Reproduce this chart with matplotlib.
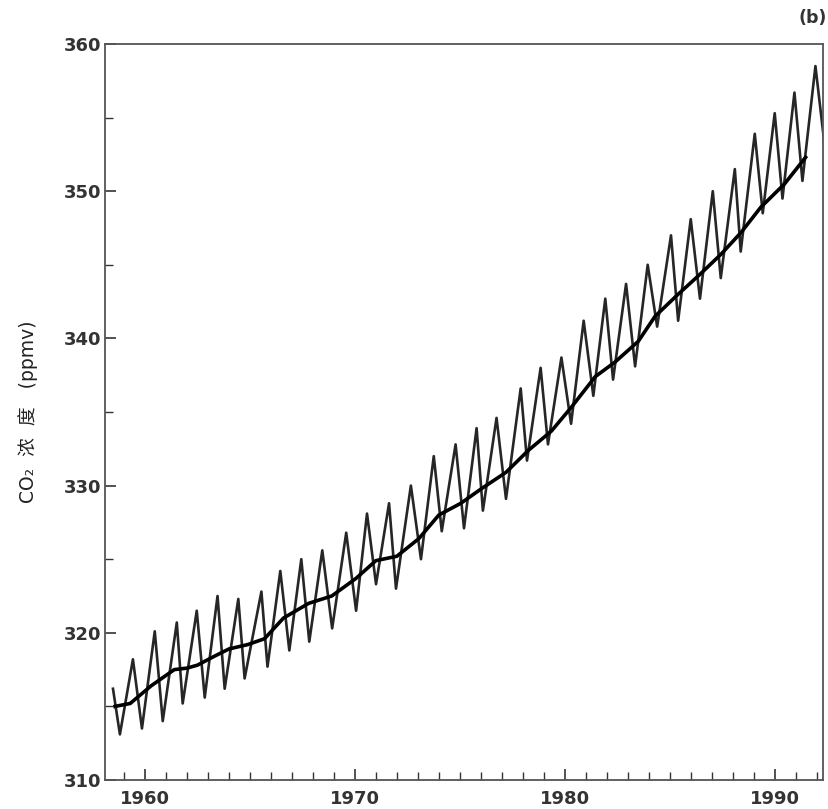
import matplotlib
matplotlib.use('Agg')
import matplotlib.pyplot as plt
from matplotlib.ticker import MultipleLocator

plt.rcParams['font.family'] = ['DejaVu Sans', 'Noto Sans CJK SC']

# seasonal curve: alternating peak / trough points
season_year = [1958.48, 1958.81, 1959.43, 1959.86, 1960.47, 1960.85, 1961.52, 1961.80,
               1962.47, 1962.85, 1963.46, 1963.80, 1964.45, 1964.75, 1965.55, 1965.84,
               1966.45, 1966.88, 1967.45, 1967.83, 1968.45, 1968.92, 1969.59, 1970.06,
               1970.58, 1971.01, 1971.63, 1971.96, 1972.67, 1973.15, 1973.76, 1974.14,
               1974.80, 1975.20, 1975.80, 1976.10, 1976.75, 1977.20, 1977.90, 1978.20,
               1978.85, 1979.20, 1979.84, 1980.30, 1980.90, 1981.36, 1981.93, 1982.30,
               1982.92, 1983.35, 1983.95, 1984.40, 1985.06, 1985.40, 1986.00, 1986.44,
               1987.05, 1987.43, 1988.10, 1988.38, 1989.05, 1989.43, 1990.00, 1990.37,
               1990.94, 1991.32, 1991.94, 1992.37]
season_ppm = [316.2, 313.1, 318.2, 313.5, 320.1, 314.0, 320.7, 315.2,
              321.5, 315.6, 322.5, 316.2, 322.3, 316.9, 322.8, 317.7,
              324.2, 318.8, 325.0, 319.4, 325.6, 320.3, 326.8, 321.5,
              328.1, 323.3, 328.8, 323.0, 330.0, 325.0, 332.0, 326.9,
              332.8, 327.1, 333.9, 328.3, 334.6, 329.1, 336.6, 331.7,
              338.0, 332.8, 338.7, 334.2, 341.2, 336.1, 342.7, 337.2,
              343.7, 338.1, 345.0, 340.8, 347.0, 341.2, 348.1, 342.7,
              350.0, 344.1, 351.5, 345.9, 353.9, 348.5, 355.3, 349.5,
              356.7, 350.7, 358.5, 353.2]

# smoothed trend line
trend_year = [1958.58, 1959.3, 1960.3, 1961.0, 1961.4, 1962.0, 1962.5, 1963.3, 1964.0,
              1964.9, 1965.7, 1966.6, 1967.8, 1968.9, 1970.06, 1971.0, 1972.0, 1973.05,
              1974.0, 1975.05, 1976.04, 1977.2, 1978.27, 1979.36, 1980.3, 1981.45,
              1982.4, 1983.5, 1984.3, 1985.4, 1986.4, 1987.43, 1988.4, 1989.33,
              1990.47, 1991.47]
trend_ppm = [315.0, 315.2, 316.4, 317.1, 317.5, 317.6, 317.8, 318.4, 318.9,
             319.2, 319.6, 321.0, 322.0, 322.5, 323.7, 324.9, 325.2, 326.4,
             328.0, 328.8, 329.8, 330.9, 332.4, 333.7, 335.3, 337.4,
             338.4, 339.8, 341.5, 343.0, 344.3, 345.7, 347.2, 348.9,
             350.5, 352.3]

fig = plt.figure(figsize=(8.29, 8.09), dpi=100)
ax = fig.add_axes([105 / 829, 1 - 780 / 809, 718 / 829, 736 / 809])

ax.plot(season_year, season_ppm, color='#262626', linewidth=1.9)
ax.plot(trend_year, trend_ppm, color='black', linewidth=2.6)

ax.set_xlim(1958.1, 1992.3)
ax.set_ylim(310, 360)

ax.xaxis.set_major_locator(MultipleLocator(10))
ax.xaxis.set_minor_locator(MultipleLocator(1))
ax.yaxis.set_major_locator(MultipleLocator(10))
ax.yaxis.set_minor_locator(MultipleLocator(5))
ax.tick_params(which='both', direction='in', top=False, right=False, colors='#333333')
ax.tick_params(which='major', length=8, width=1.2, labelsize=13)
ax.tick_params(axis='x', which='major', pad=7)
ax.tick_params(axis='y', which='major', pad=3)
ax.tick_params(which='minor', length=6, width=1.0)
for lab in ax.get_xticklabels() + ax.get_yticklabels():
    lab.set_fontweight('bold')

for s in ax.spines.values():
    s.set_color('#555555')
    s.set_linewidth(1.3)

ax.set_ylabel('CO\u2082  浓  度   (ppmv)', fontsize=13.5, labelpad=18, color='#222222')

fig.text(0.997, 0.978, '(b)', ha='right', va='center', fontsize=12.5,
         fontweight='bold', color='#333333')

fig.savefig('out.png', dpi=100, facecolor='white')
